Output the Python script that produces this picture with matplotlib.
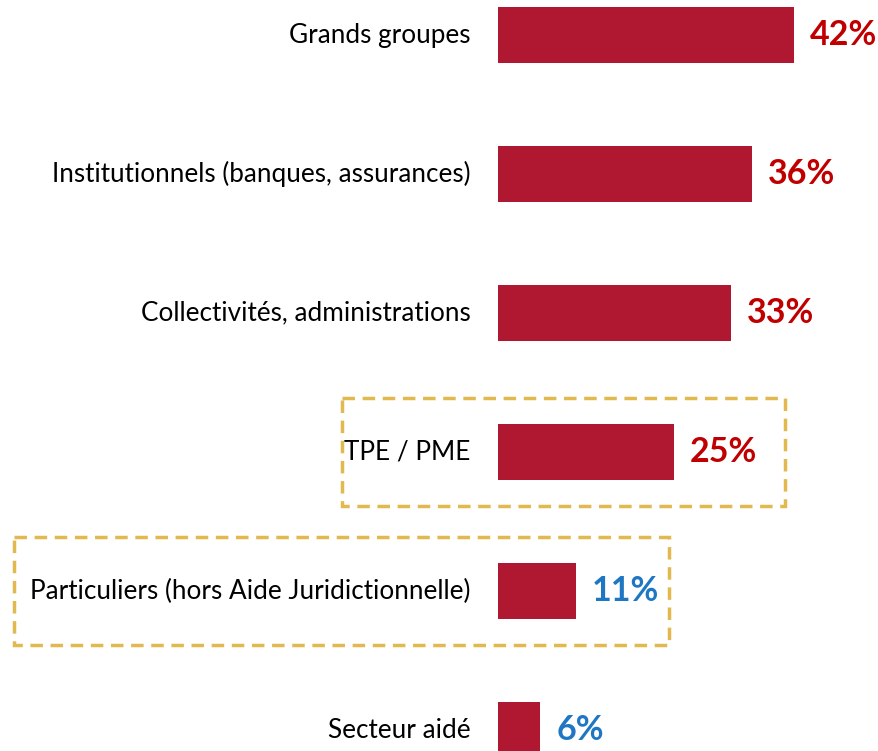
import matplotlib
matplotlib.use("Agg")
import matplotlib.pyplot as plt
from matplotlib.patches import Rectangle

plt.rcParams['font.family'] = ['Lato', 'DejaVu Sans']

categories = ["Grands groupes", "Institutionnels (banques, assurances)",
              "Collectivités, administrations", "TPE / PME",
              "Particuliers (hors Aide Juridictionnelle)", "Secteur aidé"]
values = [42, 36, 33, 25, 11, 6]
value_colors = ["#C00000", "#C00000", "#C00000", "#C00000", "#1F77C4", "#1F77C4"]
highlighted = [3, 4]

bar_color = "#B01831"
box_color = "#E1B94F"

fig = plt.figure(figsize=(8.79, 7.51), dpi=100)
# axe : 1 % = ~7.05 px, barres depuis x = 498 px
ax = fig.add_axes([498 / 879, 0, 381 / 879, 1])
ax.set_xlim(0, 381 / 7.05)
ax.set_ylim(751 / 139 - 35 / 139, -35 / 139)
ax.axis("off")

pos = list(range(len(values)))
ax.barh(pos, values, height=0.40, color=bar_color)

px = 1 / 7.05
for i, (cat, v, c) in enumerate(zip(categories, values, value_colors)):
    ax.text(-27.5 * px, i, cat, ha="right", va="center", fontsize=18.8, color="black", clip_on=False)
    ax.text(v + 16 * px, i, f"{v}%", ha="left", va="center", fontsize=24.5,
            fontweight="bold", color=c, clip_on=False)

# cadres pointillés autour des catégories mises en avant
boxes = {3: (342, 785), 4: (14, 669)}
for i in highlighted:
    x0, x1 = boxes[i]
    r = Rectangle(((x0 - 498) * px, i - 0.392), (x1 - x0) * px, 0.784,
                  fill=False, edgecolor=box_color, linewidth=2.5,
                  linestyle=(0, (3.6, 2.2)), clip_on=False)
    ax.add_patch(r)

plt.savefig("out.png", dpi=100)
